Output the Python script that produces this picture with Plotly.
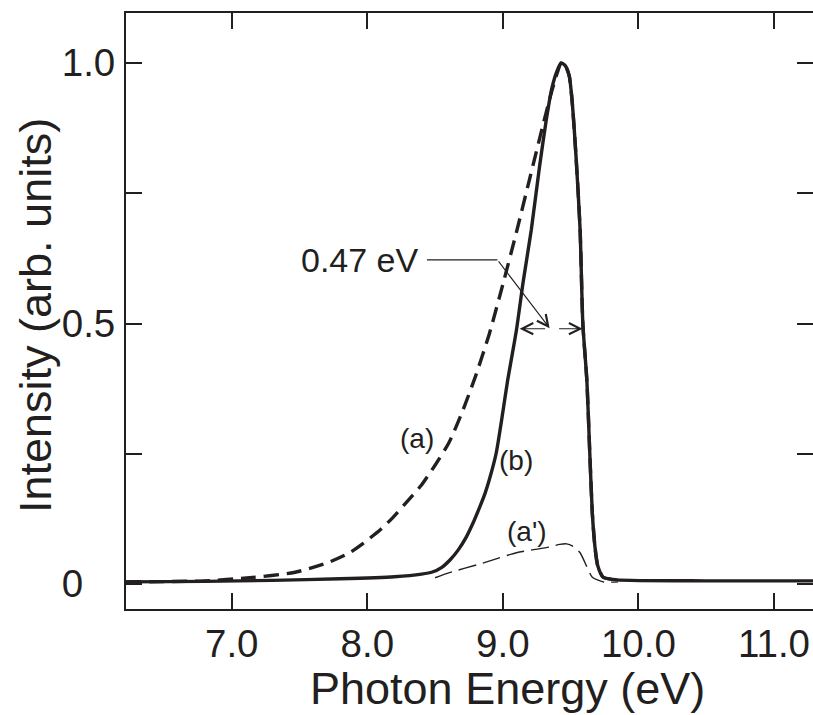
import plotly.graph_objects as go

# ---- data ----
energy_b = [6.22, 6.8, 7.3, 7.8, 8.2, 8.4, 8.48, 8.55, 8.61, 8.67, 8.73, 8.78, 8.83, 8.87, 8.90,
            8.95, 9.0, 9.035, 9.10, 9.15, 9.21, 9.27, 9.32, 9.36, 9.40, 9.43, 9.46, 9.49, 9.51,
            9.54, 9.57, 9.59, 9.62, 9.64, 9.66, 9.68, 9.70, 9.74, 9.84, 10.5, 11.3]
intensity_b = [0.004, 0.005, 0.007, 0.010, 0.014, 0.019, 0.023, 0.032, 0.046, 0.065, 0.09, 0.117,
               0.148, 0.175, 0.20, 0.25, 0.33, 0.39, 0.487, 0.58, 0.68, 0.80, 0.89, 0.95, 0.985,
               1.0, 0.995, 0.975, 0.93, 0.82, 0.68, 0.50, 0.39, 0.26, 0.136, 0.07, 0.035, 0.013,
               0.008, 0.006, 0.006]

energy_a = [6.22, 6.8, 7.13, 7.46, 7.70, 7.87, 7.97, 8.10, 8.19, 8.30, 8.40, 8.50, 8.60, 8.70,
            8.80, 8.90, 9.00, 9.10, 9.20, 9.30, 9.36, 9.40, 9.43, 9.46, 9.49, 9.51, 9.54, 9.57,
            9.59, 9.62, 9.64, 9.66, 9.68, 9.70, 9.74, 9.84]
intensity_a = [0.004, 0.006, 0.012, 0.022, 0.040, 0.06, 0.078, 0.105, 0.128, 0.16, 0.19, 0.228,
               0.27, 0.33, 0.40, 0.48, 0.575, 0.675, 0.78, 0.885, 0.945, 0.98, 1.0, 0.995, 0.975,
               0.93, 0.82, 0.68, 0.50, 0.39, 0.26, 0.136, 0.07, 0.035, 0.013, 0.008]

energy_a2 = [8.50, 8.585, 8.85, 9.10, 9.345, 9.42, 9.47, 9.52, 9.57, 9.62, 9.66, 9.74, 9.85]
intensity_a2 = [0.012, 0.02, 0.04, 0.06, 0.071, 0.076, 0.077, 0.072, 0.06, 0.033, 0.013, 0.004, 0.004]

x_tick_vals = [7, 8, 9, 10, 11]
x_tick_text = ["7.0", "8.0", "9.0", "10.0", "11.0"]
y_tick_vals = [0, 0.25, 0.5, 0.75, 1.0]
y_tick_text = ["0\u00a0\u00a0\u00a0", "", "0.5", "", "1.0"]

x_title = "Photon Energy (eV)"
y_title = "Intensity (arb. units)"

fwhm_label = "0.47 eV"
fwhm_y = 0.49
fwhm_left, fwhm_right = 9.124, 9.588
fwhm_gap_left, fwhm_gap_right = 9.323, 9.404
leader = dict(text_x=8.44, y=0.622, bend_x=8.96, tip_x=9.345, tip_y=0.491)

labels = [("(a)", 8.37, 0.28), ("(b)", 9.10, 0.238), ("(a')", 9.175, 0.10)]

X_RANGE = [6.22, 11.288]
Y_RANGE = [-0.048, 1.096]

INK = "#231f20"
FONT = "Liberation Sans, Arial, Helvetica, sans-serif"
TICK_SIZE = 38.5
TITLE_SIZE = 45

fig = go.Figure()
fig.add_trace(go.Scatter(x=energy_a2, y=intensity_a2, mode="lines",
                         line=dict(color=INK, width=1.4, dash="18px,7px", shape="spline", smoothing=0.6)))
fig.add_trace(go.Scatter(x=energy_a, y=intensity_a, mode="lines",
                         line=dict(color=INK, width=3.4, dash="15px,8px", shape="spline", smoothing=0.6)))
fig.add_trace(go.Scatter(x=energy_b, y=intensity_b, mode="lines",
                         line=dict(color=INK, width=3.4, shape="spline", smoothing=0.6)))
# empty trace to activate top/right mirror axes
fig.add_trace(go.Scatter(x=[], y=[], xaxis="x2", yaxis="y2", mode="lines"))

# leader line
fig.add_trace(go.Scatter(x=[leader["text_x"], leader["bend_x"]], y=[leader["y"], leader["y"]],
                         mode="lines", line=dict(color=INK, width=1.2)))
arrow_style = dict(axref="x", ayref="y", xref="x", yref="y", text="", showarrow=True,
                   arrowhead=5, arrowsize=2.0, arrowwidth=1.1, arrowcolor=INK)
annotations = [
    dict(x=leader["tip_x"], y=leader["tip_y"], ax=leader["bend_x"], ay=leader["y"], **arrow_style),
    dict(x=fwhm_left, y=fwhm_y, ax=fwhm_gap_left, ay=fwhm_y, **arrow_style),
    dict(x=fwhm_right, y=fwhm_y, ax=fwhm_gap_right, ay=fwhm_y, **arrow_style),
    dict(x=leader["text_x"], y=leader["y"], xref="x", yref="y", text=fwhm_label,
         showarrow=False, xanchor="right", yanchor="middle", xshift=-6,
         font=dict(family=FONT, size=34, color=INK)),
    # y-axis title
    dict(x=0, y=0.5, xref="paper", yref="paper", text=y_title, textangle=-90,
         showarrow=False, xanchor="center", yanchor="middle", xshift=-91, yshift=-5,
         font=dict(family=FONT, size=TITLE_SIZE, color=INK)),
    # x-axis title
    dict(x=0.5, y=0, xref="paper", yref="paper", text=x_title, borderpad=0,
         showarrow=False, xanchor="center", yanchor="bottom", xshift=38, yshift=-106,
         font=dict(family=FONT, size=TITLE_SIZE, color=INK)),
]
for txt, lx, ly in labels:
    annotations.append(dict(x=lx, y=ly, xref="x", yref="y", text=txt, showarrow=False,
                            font=dict(family=FONT, size=28, color=INK)))

common_axis = dict(showgrid=False, zeroline=False, ticks="inside", ticklen=16, tickwidth=2,
                   tickcolor=INK, linecolor=INK, linewidth=2)

fig.update_layout(
    width=813, height=715,
    margin=dict(l=126, r=0, t=13, b=106),
    paper_bgcolor="white", plot_bgcolor="white",
    showlegend=False,
    font=dict(family=FONT, color=INK),
    annotations=annotations,
    xaxis=dict(range=X_RANGE, tickvals=x_tick_vals, ticktext=x_tick_text, showline=True,
               tickfont=dict(size=TICK_SIZE, family=FONT, color=INK), ticklabelstandoff=0,
               **common_axis),
    xaxis2=dict(range=X_RANGE, tickvals=x_tick_vals, overlaying="x", side="top", anchor="y",
                showline=True, showticklabels=False, **common_axis),
    yaxis=dict(range=Y_RANGE, tickvals=y_tick_vals, ticktext=y_tick_text, showline=True,
               tickfont=dict(size=TICK_SIZE, family=FONT, color=INK), ticklabelstandoff=1,
               **common_axis),
    yaxis2=dict(range=Y_RANGE, tickvals=y_tick_vals, overlaying="y", side="right", anchor="x",
                showline=False, showticklabels=False, **common_axis),
)

# remove the default page margin so the 813x715 figure fills the window exactly
fig.write_html("out.html", config={"displayModeBar": False},
               post_script="document.body.style.margin='0';document.body.style.overflow='hidden';")
